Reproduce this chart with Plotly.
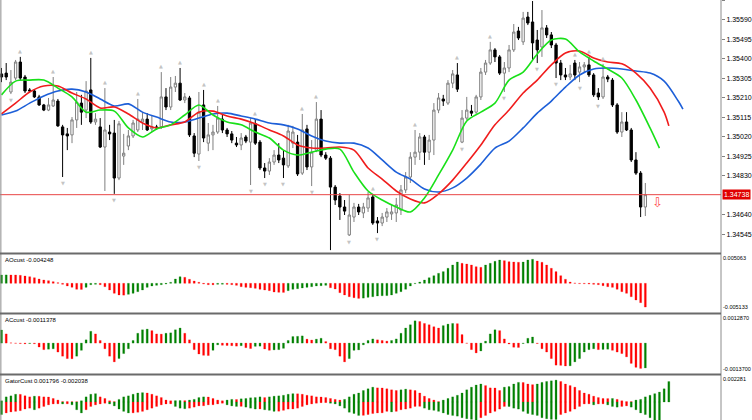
import plotly.graph_objects as go

# MT4-style chart: candles + Alligator, then AO / AC / Gator sub-windows
W, H = 752, 420

# ---------------- price data (one candle per bar) ----------------
bar_idx = list(range(138))

open_ = [1.35326, 1.35330, 1.35238, 1.35306, 1.35384, 1.35311, 1.35248, 1.35243, 1.35214, 1.35175,
         1.35150, 1.35170, 1.35194, 1.35068, 1.35034, 1.35029, 1.35102, 1.35184, 1.35150, 1.35248,
         1.35092, 1.35068, 1.34970, 1.35043, 1.35038, 1.34819, 1.34926, 1.34975, 1.35024, 1.35053,
         1.35092, 1.35106, 1.35058, 1.35068, 1.35068, 1.35214, 1.35165, 1.35262, 1.35281, 1.35199,
         1.35209, 1.35024, 1.34936, 1.35175, 1.34989, 1.35029, 1.35043, 1.35106, 1.35053, 1.35034,
         1.34989, 1.34980, 1.35019, 1.34994, 1.35083, 1.34994, 1.34868, 1.34853, 1.34897, 1.34931,
         1.34916, 1.34878, 1.34989, 1.34994, 1.34843, 1.35058, 1.34873, 1.34955, 1.35106, 1.34931,
         1.34916, 1.34775, 1.34732, 1.34678, 1.34542, 1.34629, 1.34678, 1.34649, 1.34673, 1.34727,
         1.34610, 1.34600, 1.34629, 1.34644, 1.34649, 1.34663, 1.34761, 1.34824, 1.34921, 1.34945,
         1.35019, 1.34945, 1.35004, 1.35150, 1.35204, 1.35184, 1.35281, 1.35321, 1.34994, 1.35111,
         1.35145, 1.35140, 1.35214, 1.35335, 1.35379, 1.35443, 1.35409, 1.35330, 1.35355, 1.35443,
         1.35535, 1.35482, 1.35603, 1.35579, 1.35491, 1.35457, 1.35550, 1.35516, 1.35467, 1.35379,
         1.35321, 1.35311, 1.35379, 1.35335, 1.35360, 1.35370, 1.35321, 1.35233, 1.35214, 1.35311,
         1.35296, 1.35175, 1.35043, 1.35092, 1.35053, 1.34907, 1.34843, 1.34678]
high = [1.35355, 1.35379, 1.35345, 1.35394, 1.35409, 1.35321, 1.35257, 1.35252, 1.35224, 1.35180,
        1.35209, 1.35311, 1.35204, 1.35078, 1.35063, 1.35116, 1.35238, 1.35224, 1.35291, 1.35404,
        1.35135, 1.35111, 1.35257, 1.35078, 1.35102, 1.35097, 1.35034, 1.35053, 1.35102, 1.35204,
        1.35140, 1.35135, 1.35126, 1.35078, 1.35335, 1.35257, 1.35311, 1.35316, 1.35355, 1.35233,
        1.35219, 1.35038, 1.35238, 1.35248, 1.35087, 1.35078, 1.35170, 1.35126, 1.35063, 1.35048,
        1.35019, 1.35038, 1.35029, 1.35111, 1.35106, 1.35004, 1.34892, 1.34916, 1.34955, 1.34989,
        1.34955, 1.35078, 1.35073, 1.35029, 1.35131, 1.35078, 1.35004, 1.35189, 1.35150, 1.34945,
        1.34926, 1.34785, 1.34746, 1.34712, 1.34737, 1.34698, 1.34693, 1.34698, 1.34751, 1.34742,
        1.34629, 1.34649, 1.34673, 1.34688, 1.34722, 1.34785, 1.34848, 1.34945, 1.35053, 1.35038,
        1.35029, 1.35029, 1.35184, 1.35233, 1.35224, 1.35296, 1.35345, 1.35379, 1.35150, 1.35214,
        1.35175, 1.35224, 1.35355, 1.35394, 1.35482, 1.35452, 1.35418, 1.35384, 1.35467, 1.35569,
        1.35555, 1.35628, 1.35628, 1.35681, 1.35540, 1.35637, 1.35564, 1.35530, 1.35477, 1.35394,
        1.35355, 1.35370, 1.35394, 1.35384, 1.35384, 1.35409, 1.35330, 1.35257, 1.35375, 1.35321,
        1.35306, 1.35184, 1.35140, 1.35140, 1.35063, 1.34945, 1.34853, 1.34795]
low = [1.35286, 1.35296, 1.35228, 1.35296, 1.35296, 1.35233, 1.35238, 1.35209, 1.35170, 1.35145,
       1.35145, 1.35165, 1.35068, 1.34824, 1.34955, 1.34989, 1.35063, 1.35078, 1.35111, 1.35083,
       1.35078, 1.34965, 1.34756, 1.35004, 1.34742, 1.34809, 1.34883, 1.34955, 1.35014, 1.35043,
       1.35053, 1.35048, 1.35043, 1.35053, 1.35058, 1.35150, 1.35150, 1.35238, 1.35194, 1.35184,
       1.35019, 1.34921, 1.34902, 1.34994, 1.34950, 1.34955, 1.35034, 1.35038, 1.35019, 1.34989,
       1.34970, 1.34955, 1.34989, 1.34785, 1.34980, 1.34858, 1.34819, 1.34834, 1.34883, 1.34892,
       1.34819, 1.34868, 1.34965, 1.34829, 1.34834, 1.34858, 1.34780, 1.34945, 1.34921, 1.34907,
       1.34468, 1.34688, 1.34615, 1.34639, 1.34537, 1.34605, 1.34639, 1.34624, 1.34654, 1.34591,
       1.34551, 1.34585, 1.34605, 1.34615, 1.34605, 1.34639, 1.34746, 1.34795, 1.34883, 1.34907,
       1.34883, 1.34907, 1.34931, 1.35135, 1.35170, 1.35175, 1.35257, 1.35238, 1.34989, 1.35102,
       1.35121, 1.35131, 1.35199, 1.35321, 1.35370, 1.35384, 1.35321, 1.35238, 1.35335, 1.35433,
       1.35491, 1.35467, 1.35564, 1.35394, 1.35379, 1.35409, 1.35501, 1.35452, 1.35306, 1.35296,
       1.35296, 1.35296, 1.35296, 1.35286, 1.35335, 1.35311, 1.35214, 1.35199, 1.35204, 1.35286,
       1.35165, 1.35034, 1.35019, 1.35048, 1.34897, 1.34834, 1.34629, 1.34634]
close = [1.35311, 1.35311, 1.35286, 1.35384, 1.35306, 1.35243, 1.35243, 1.35214, 1.35175, 1.35150,
         1.35175, 1.35199, 1.35073, 1.35029, 1.35024, 1.35102, 1.35189, 1.35140, 1.35243, 1.35092,
         1.35106, 1.34970, 1.35053, 1.35034, 1.34819, 1.35083, 1.34940, 1.35024, 1.35087, 1.35106,
         1.35106, 1.35053, 1.35068, 1.35063, 1.35214, 1.35165, 1.35262, 1.35281, 1.35199, 1.35214,
         1.35029, 1.34940, 1.35140, 1.35014, 1.35029, 1.35043, 1.35111, 1.35053, 1.35034, 1.35004,
         1.34980, 1.35014, 1.34999, 1.35087, 1.34989, 1.34868, 1.34853, 1.34897, 1.34931, 1.34907,
         1.34883, 1.35048, 1.35043, 1.34839, 1.35053, 1.34873, 1.34945, 1.35106, 1.34931, 1.34916,
         1.34775, 1.34712, 1.34678, 1.34658, 1.34639, 1.34678, 1.34654, 1.34678, 1.34722, 1.34600,
         1.34600, 1.34629, 1.34654, 1.34654, 1.34688, 1.34761, 1.34824, 1.34921, 1.34945, 1.35019,
         1.34945, 1.35004, 1.35150, 1.35209, 1.35194, 1.35281, 1.35326, 1.35252, 1.35111, 1.35150,
         1.35135, 1.35214, 1.35335, 1.35379, 1.35443, 1.35409, 1.35330, 1.35355, 1.35443, 1.35530,
         1.35501, 1.35598, 1.35574, 1.35477, 1.35443, 1.35550, 1.35516, 1.35467, 1.35379, 1.35321,
         1.35311, 1.35326, 1.35321, 1.35360, 1.35370, 1.35321, 1.35224, 1.35214, 1.35311, 1.35301,
         1.35175, 1.35043, 1.35092, 1.35053, 1.34907, 1.34843, 1.34678, 1.34738]

# fractal arrows (bar numbers)
fractal_up = [4, 11, 19, 22, 29, 34, 38, 43, 46, 54, 64, 67, 79, 88, 97, 104, 122, 125, 128]
fractal_dn = [2, 13, 24, 42, 53, 56, 60, 66, 74, 80, 98, 107, 114, 118, 123, 127]

# Alligator lines, read every 3rd bar (they run past the last candle)
jaw_x = list(range(0, 145, 3)) + [145]
jaw = [1.35126, 1.35145, 1.35184, 1.35219, 1.35243, 1.35252, 1.35238, 1.35204, 1.35170, 1.35180,
       1.35140, 1.35116, 1.35092, 1.35092, 1.35111, 1.35131, 1.35135, 1.35121, 1.35106, 1.35087,
       1.35078, 1.35058, 1.35024, 1.34999, 1.34989, 1.34989, 1.34965, 1.34907, 1.34848, 1.34814,
       1.34766, 1.34751, 1.34771, 1.34819, 1.34887, 1.34965, 1.34999, 1.35063, 1.35135, 1.35194,
       1.35262, 1.35321, 1.35350, 1.35355, 1.35350, 1.35340, 1.35330, 1.35291, 1.35194, 1.35155]
teeth_x = list(range(0, 142, 3)) + [142]
teeth = [1.35131, 1.35184, 1.35238, 1.35267, 1.35267, 1.35233, 1.35204, 1.35160, 1.35165, 1.35131,
         1.35087, 1.35063, 1.35078, 1.35092, 1.35140, 1.35145, 1.35121, 1.35106, 1.35083, 1.35053,
         1.35024, 1.34980, 1.34965, 1.34965, 1.34970, 1.34955, 1.34868, 1.34814, 1.34756, 1.34717,
         1.34698, 1.34742, 1.34809, 1.34892, 1.34980, 1.35078, 1.35150, 1.35233, 1.35296, 1.35370,
         1.35428, 1.35438, 1.35404, 1.35384, 1.35375, 1.35330, 1.35257, 1.35140, 1.35073]
lips_x = list(range(0, 139, 3)) + [140]
lips = [1.35224, 1.35291, 1.35296, 1.35296, 1.35257, 1.35214, 1.35140, 1.35150, 1.35145, 1.35063,
        1.35019, 1.35058, 1.35078, 1.35126, 1.35175, 1.35126, 1.35092, 1.35078, 1.35043, 1.35014,
        1.34955, 1.34931, 1.34945, 1.34960, 1.34960, 1.34848, 1.34756, 1.34712, 1.34678, 1.34654,
        1.34722, 1.34834, 1.34955, 1.35097, 1.35140, 1.35184, 1.35296, 1.35335, 1.35423, 1.35491,
        1.35496, 1.35433, 1.35389, 1.35350, 1.35306, 1.35199, 1.35063, 1.34965]

bid = 1.34738
price_ticks = [1.35685, 1.35590, 1.35495, 1.35400, 1.35305, 1.35210, 1.35115,
               1.35020, 1.34925, 1.34830, 1.34640, 1.34545]

# ---------------- oscillators ----------------
ao = [0.00149, 0.00150, 0.00149, 0.00149, 0.00143, 0.00131, 0.00118, 0.00100, 0.00077, 0.00059,
      0.00047, 0.00029, 0.00011, -0.00018, -0.00048, -0.00072, -0.00107, -0.00110, -0.00072, -0.00025,
      -0.00018, -0.00025, -0.00061, -0.00120, -0.00179, -0.00209, -0.00212, -0.00197, -0.00179, -0.00150,
      -0.00120, -0.00072, -0.00048, -0.00036, -0.00025, -0.00013, 0.00018, 0.00077, 0.00118, 0.00107,
      0.00072, 0.00041, 0.00018, -0.00013, -0.00025, -0.00026, -0.00018, -0.00017, -0.00019, -0.00025,
      -0.00036, -0.00061, -0.00072, -0.00079, -0.00090, -0.00107, -0.00120, -0.00132, -0.00156, -0.00161,
      -0.00163, -0.00132, -0.00107, -0.00097, -0.00084, -0.00072, -0.00061, -0.00048, -0.00043, -0.00036,
      -0.00079, -0.00102, -0.00168, -0.00209, -0.00240, -0.00258, -0.00270, -0.00265, -0.00251, -0.00240,
      -0.00227, -0.00222, -0.00220, -0.00209, -0.00179, -0.00150, -0.00107, -0.00048, -0.00007, 0.00023,
      0.00059, 0.00100, 0.00136, 0.00179, 0.00209, 0.00269, 0.00328, 0.00381, 0.00358, 0.00345,
      0.00328, 0.00297, 0.00286, 0.00328, 0.00358, 0.00394, 0.00417, 0.00405, 0.00387, 0.00381,
      0.00376, 0.00381, 0.00417, 0.00430, 0.00399, 0.00376, 0.00328, 0.00269, 0.00209, 0.00136,
      0.00072, 0.00023, 0.00005, -0.00007, -0.00008, -0.00013, -0.00018, -0.00025, -0.00043, -0.00061,
      -0.00072, -0.00107, -0.00150, -0.00179, -0.00240, -0.00299, -0.00347, -0.004248]

ac = [0.00060, 0.00042, 0.00001, -0.00001, -0.00002, -0.00003, -0.00002, -0.00003, -0.00018, -0.00030,
      -0.00028, -0.00026, -0.00041, -0.00060, -0.00071, -0.00072, -0.00060, -0.00033, 0.00015, 0.00054,
      0.00042, 0.00012, -0.00026, -0.00060, -0.00086, -0.00071, -0.00048, -0.00026, 0.00012, 0.00045,
      0.00061, 0.00064, 0.00057, 0.00042, 0.00041, 0.00045, 0.00047, 0.00061, 0.00069, 0.00045,
      0.00015, -0.00030, -0.00050, -0.00056, -0.00057, -0.00033, -0.00008, -0.00010, -0.00011, -0.00012,
      -0.00014, -0.00012, -0.00021, -0.00025, -0.00015, -0.00014, -0.00027, -0.00033, -0.00031, -0.00030,
      -0.00024, 0.00012, 0.00030, 0.00031, 0.00033, 0.00018, 0.00014, 0.00018, 0.00022, 0.00007,
      -0.00026, -0.00030, -0.00060, -0.00086, -0.00071, -0.00033, -0.00031, -0.00008, 0.00012, 0.00019,
      0.00015, 0.00012, 0.00009, 0.00012, 0.00019, 0.00045, 0.00069, 0.00084, 0.00102, 0.00099,
      0.00090, 0.00084, 0.00075, 0.00069, 0.00080, 0.00087, 0.00090, 0.00089, 0.00039, -0.00001,
      -0.00030, -0.00045, -0.00036, 0.00009, 0.00042, 0.00061, 0.00057, 0.00019, -0.00004, -0.00019,
      -0.00020, -0.00002, 0.00022, 0.00028, -0.00002, -0.00026, -0.00041, -0.00071, -0.00101, -0.00102,
      -0.00105, -0.00104, -0.00086, -0.00071, -0.00041, -0.00030, -0.00026, -0.00030, -0.00029, -0.00028,
      -0.00033, -0.00041, -0.00048, -0.00063, -0.00093, -0.00111, -0.00116, -0.0011378]

# Gator: upper runs to bar 142, lower to bar 140
gator_up = [0.00011, 0.00045, 0.00054, 0.00068, 0.00067, 0.00054, 0.00045, 0.00051, 0.00050, 0.00045,
            0.00044, 0.00031, 0.00017, 0.00003, 0.00003, 0.00002, 0.00002, 0.00011, 0.00045, 0.00068,
            0.00073, 0.00045, 0.00031, 0.00011, 0.00003, 0.00023, 0.00045, 0.00054, 0.00068, 0.00079,
            0.00082, 0.00079, 0.00068, 0.00054, 0.00039, 0.00017, 0.00011, 0.00012, 0.00013, 0.00012,
            0.00017, 0.00023, 0.00039, 0.00045, 0.00044, 0.00031, 0.00017, 0.00011, 0.00017, 0.00023,
            0.00022, 0.00028, 0.00031, 0.00037, 0.00039, 0.00045, 0.00039, 0.00045, 0.00051, 0.00054,
            0.00059, 0.00068, 0.00073, 0.00072, 0.00068, 0.00059, 0.00054, 0.00045, 0.00044, 0.00039,
            0.00031, 0.00023, 0.00017, 0.00023, 0.00045, 0.00068, 0.00079, 0.00101, 0.00116, 0.00130,
            0.00124, 0.00123, 0.00116, 0.00107, 0.00101, 0.00107, 0.00113, 0.00107, 0.00101, 0.00079,
            0.00051, 0.00031, 0.00017, 0.00003, 0.00017, 0.00031, 0.00045, 0.00059, 0.00079, 0.00107,
            0.00130, 0.00149, 0.00158, 0.00144, 0.00124, 0.00123, 0.00101, 0.00130, 0.00135, 0.00158,
            0.00172, 0.00171, 0.00158, 0.00152, 0.00158, 0.00172, 0.00180, 0.00186, 0.00192, 0.00180,
            0.00158, 0.00144, 0.00130, 0.00101, 0.00079, 0.00068, 0.00051, 0.00039, 0.00031, 0.00030,
            0.00031, 0.00023, 0.00011, 0.00003, 0.00003, 0.00017, 0.00023, 0.00045, 0.00059, 0.00073,
            0.00087, 0.00116, 0.001796]
gator_dn = [-0.00110, -0.00096, -0.00087, -0.00082, -0.00076, -0.00062, -0.00054, -0.00068, -0.00054, -0.00039,
            -0.00025, -0.00017, -0.00016, -0.00017, -0.00016, -0.00025, -0.00068, -0.00096, -0.00068, -0.00039,
            -0.00025, -0.00017, -0.00011, -0.00017, -0.00034, -0.00062, -0.00082, -0.00096, -0.00095, -0.00090,
            -0.00082, -0.00068, -0.00054, -0.00039, -0.00025, -0.00017, -0.00016, -0.00039, -0.00054, -0.00059,
            -0.00054, -0.00045, -0.00034, -0.00033, -0.00025, -0.00024, -0.00017, -0.00011, -0.00025, -0.00034,
            -0.00039, -0.00038, -0.00045, -0.00054, -0.00062, -0.00061, -0.00068, -0.00073, -0.00082, -0.00081,
            -0.00073, -0.00062, -0.00061, -0.00054, -0.00039, -0.00025, -0.00017, -0.00011, -0.00006, -0.00005,
            -0.00011, -0.00017, -0.00034, -0.00054, -0.00090, -0.00101, -0.00118, -0.00117, -0.00110, -0.00101,
            -0.00096, -0.00095, -0.00082, -0.00087, -0.00082, -0.00068, -0.00062, -0.00054, -0.00039, -0.00038,
            -0.00054, -0.00068, -0.00073, -0.00082, -0.00096, -0.00110, -0.00118, -0.00124, -0.00138, -0.00147,
            -0.00152, -0.00160, -0.00138, -0.00118, -0.00096, -0.00082, -0.00062, -0.00039, -0.00040, -0.00054,
            -0.00062, -0.00082, -0.00101, -0.00110, -0.00118, -0.00138, -0.00147, -0.00152, -0.00153, -0.00110,
            -0.00096, -0.00082, -0.00062, -0.00039, -0.00017, -0.00016, -0.00025, -0.00017, -0.00016, -0.00025,
            -0.00039, -0.00045, -0.00039, -0.00034, -0.00045, -0.00068, -0.00096, -0.00110, -0.00138, -0.00160,
            -0.002038]

GREEN = "#008000"
RED = "#ff0000"
FONT = "Liberation Sans"


def change_colors(values, by_abs=False):
    # MT4 colouring: green when the bar grew vs the previous one, red otherwise
    cols, halos = [], []
    prev = None
    for v in values:
        cur = abs(v) if by_abs else v
        up = prev is None or cur > prev
        cols.append(GREEN if up else RED)
        halos.append("rgba(0,128,0,0.3)" if up else "rgba(255,0,0,0.3)")
        prev = cur
    return cols, halos


def histo(x, y, axis, by_abs=False):
    cols, halos = change_colors(y, by_abs)
    return go.Bar(x=x, y=y, width=0.42, yaxis=axis, hoverinfo="skip",
                  marker=dict(color=cols, line=dict(color=halos, width=0.8)))


def px_to_paper(ypx):
    return 1 - ypx / H


fig = go.Figure()

fig.add_trace(go.Candlestick(
    x=bar_idx, open=open_, high=high, low=low, close=close,
    increasing=dict(line=dict(color="#7f7f7f", width=1), fillcolor="white"),
    decreasing=dict(line=dict(color="#000000", width=1), fillcolor="black"),
    whiskerwidth=0, hoverinfo="skip", yaxis="y"))

for xs, ys, col in [(jaw_x, jaw, "#1d5fd8"), (teeth_x, teeth, "#f01c1c"), (lips_x, lips, "#19e019")]:
    fig.add_trace(go.Scatter(x=xs, y=ys, mode="lines", yaxis="y", hoverinfo="skip",
                             line=dict(color=col, width=1.6, shape="spline", smoothing=0.8)))

fig.add_trace(histo(bar_idx, ao, "y2"))
fig.add_trace(histo(bar_idx, ac, "y3"))
fig.add_trace(histo(list(range(len(gator_up))), gator_up, "y4", by_abs=True))
fig.add_trace(histo(list(range(len(gator_dn))), gator_dn, "y4", by_abs=True))

# panel geometry (pixel rows of the MT4 window)
main_dom = [px_to_paper(253), 1]
ao_dom = [px_to_paper(312), px_to_paper(255)]
ac_dom = [px_to_paper(373), px_to_paper(315)]
gt_dom = [0, px_to_paper(376)]

ann = []
# fractal arrows
for i in fractal_up:
    ann.append(dict(x=i, y=high[i], xref="x", yref="y", text="▲", showarrow=False, yshift=6,
                    font=dict(size=5, color="#c4c4c4", family="DejaVu Sans")))
for i in fractal_dn:
    ann.append(dict(x=i, y=low[i], xref="x", yref="y", text="▼", showarrow=False, yshift=-6,
                    font=dict(size=5, color="#c4c4c4", family="DejaVu Sans")))

# sell arrow after the last candle
ann.append(dict(x=bar_idx[-1], y=close[-1], xref="x", yref="y", text="⇩", showarrow=False,
                xshift=12, yshift=-8, font=dict(size=13, color="#ff4a4a", family="DejaVu Sans")))

# bid label on the price scale
ann.append(dict(x=1, y=bid, xref="paper", yref="y", text="1.34738", showarrow=False,
                xanchor="left", xshift=1, bgcolor="#e00000", borderpad=1,
                font=dict(size=7, color="white", family=FONT)))

# sub-window titles
for txt, ypx in [("AOcust -0.004248", 260), ("ACcust -0.0011378", 320),
                 ("GatorCust 0.001796 -0.002038", 381)]:
    ann.append(dict(x=0.004, y=px_to_paper(ypx), xref="paper", yref="paper", text=txt,
                    showarrow=False, xanchor="left", yanchor="middle",
                    font=dict(size=6, color="black", family=FONT)))

# sub-window scale labels
for txt, ypx in [("0.005063", 258), ("-0.005133", 307), ("0.0012870", 318),
                 ("-0.0013700", 369), ("0.002281", 379)]:
    ann.append(dict(x=1, y=px_to_paper(ypx), xref="paper", yref="paper", text=txt,
                    showarrow=False, xanchor="left", yanchor="middle", xshift=0,
                    font=dict(size=5.5, color="black", family=FONT)))

shapes = [
    dict(type="line", xref="paper", yref="y", x0=0, x1=1, y0=bid, y1=bid,
         line=dict(color="#e84545", width=1)),
    dict(type="line", xref="paper", yref="paper", x0=1, x1=1, y0=0, y1=1,
         line=dict(color="#8c8c8c", width=1)),
    dict(type="line", xref="paper", yref="paper", x0=0.0012, x1=0.0012, y0=0, y1=1,
         line=dict(color="#8c8c8c", width=1)),
]
for ypx in [253.5, 313.5, 374.5]:
    shapes.append(dict(type="line", xref="paper", yref="paper", x0=0, x1=1,
                       y0=px_to_paper(ypx), y1=px_to_paper(ypx),
                       line=dict(color="#6a6a6a", width=2.2)))

hidden = dict(showgrid=False, zeroline=False, showticklabels=False, ticks="", fixedrange=True)

fig.update_layout(
    width=W, height=H,
    margin=dict(l=0, r=W - 721, t=0, b=0),
    paper_bgcolor="white", plot_bgcolor="white",
    showlegend=False, barmode="overlay",
    xaxis=dict(range=[-0.32, 153.1], visible=False, rangeslider=dict(visible=False), fixedrange=True),
    yaxis=dict(domain=main_dom, range=[1.34454, 1.35686], side="right", showgrid=False,
               zeroline=False, tickvals=price_ticks, ticktext=[f"{v:.5f}" for v in price_ticks],
               ticks="outside", ticklen=3, tickcolor="#808080", automargin=False,
               tickfont=dict(size=7, color="black", family=FONT), fixedrange=True),
    yaxis2=dict(domain=ao_dom, range=[-0.005133, 0.005063], anchor="x", **hidden),
    yaxis3=dict(domain=ac_dom, range=[-0.00137, 0.001287], anchor="x", **hidden),
    yaxis4=dict(domain=gt_dom, range=[-0.001579, 0.002281], anchor="x", **hidden),
    annotations=ann, shapes=shapes,
)

# page body has a default 8px margin; drop it so the chart sits at the window corner
fig.write_html("out.html", config={"displayModeBar": False},
               post_script="document.body.style.margin='0';")
